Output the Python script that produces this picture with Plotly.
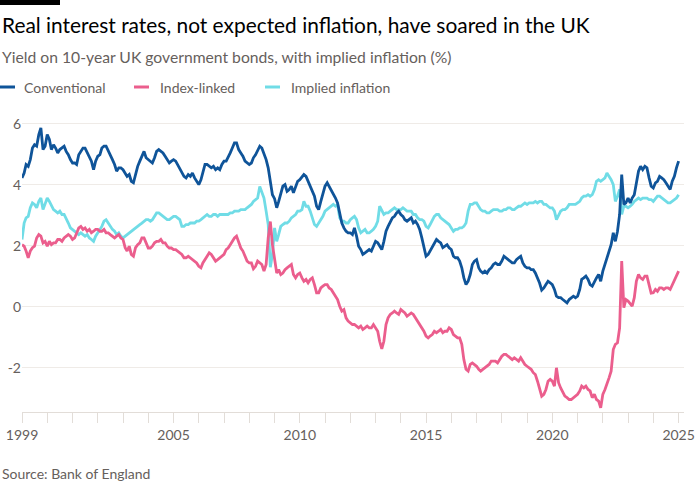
import plotly.graph_objects as go
import pandas as pd

# ---------------- data (monthly readings, Jan 1999 - Jan 2025) ----------------
months = pd.date_range("1999-01-01", "2025-01-01", freq="MS")

conventional = [
    4.23, 4.39, 4.67, 4.61, 4.83, 5.21, 5.32, 5.27, 5.65, 5.87, 5.16, 5.27,  # 1999
    5.65, 5.49, 5.16, 5.32, 5.21, 5.05, 5.16, 5.21, 5.27, 5.10, 4.99, 4.83,  # 2000
    4.72, 4.72, 4.67, 4.99, 5.10, 5.21, 5.21, 5.05, 4.89, 4.78, 4.50, 4.78,  # 2001
    4.94, 4.99, 5.21, 5.27, 5.27, 5.10, 4.94, 4.83, 4.67, 4.45, 4.56, 4.56,  # 2002
    4.50, 4.39, 4.28, 4.34, 4.12, 4.07, 4.39, 4.61, 4.78, 4.94, 5.10, 4.89,  # 2003
    4.83, 4.78, 4.72, 4.89, 5.10, 5.16, 5.10, 5.05, 4.94, 4.83, 4.72, 4.78,  # 2004
    4.83, 4.78, 4.67, 4.50, 4.39, 4.28, 4.23, 4.34, 4.28, 4.39, 4.23, 4.12,  # 2005
    4.01, 4.17, 4.39, 4.67, 4.67, 4.61, 4.56, 4.61, 4.50, 4.56, 4.50, 4.67,  # 2006
    4.78, 4.78, 4.89, 5.05, 5.21, 5.38, 5.38, 5.16, 5.05, 4.94, 4.78, 4.72,  # 2007
    4.67, 4.72, 4.89, 4.99, 5.16, 5.27, 5.21, 5.05, 4.83, 4.56, 4.12, 3.68,  # 2008
    3.55, 3.25, 3.45, 3.74, 3.96, 4.01, 3.79, 3.85, 3.96, 3.74, 3.96, 4.12,  # 2009
    4.17, 4.28, 4.34, 4.28, 4.12, 3.96, 3.79, 3.63, 3.30, 3.19, 3.46, 3.68,  # 2010
    3.96, 4.07, 3.96, 3.79, 3.68, 3.57, 3.41, 3.03, 2.75, 2.59, 2.48, 2.43,  # 2011
    2.43, 2.37, 2.59, 2.32, 1.99, 1.88, 1.72, 1.77, 1.83, 1.88, 1.83, 1.99,  # 2012
    2.15, 2.10, 1.99, 1.88, 2.15, 2.48, 2.64, 2.81, 2.92, 2.97, 3.08, 3.14,  # 2013
    3.03, 2.97, 2.86, 2.81, 2.86, 2.92, 2.75, 2.81, 2.70, 2.54, 2.26, 1.99,  # 2014
    1.66, 1.72, 1.83, 1.94, 2.10, 2.21, 2.15, 2.10, 1.94, 1.99, 2.04, 1.94,  # 2015
    1.88, 1.66, 1.61, 1.61, 1.50, 1.28, 0.95, 0.73, 0.84, 1.06, 1.39, 1.50,  # 2016
    1.55, 1.28, 1.17, 1.11, 1.17, 1.11, 1.22, 1.28, 1.39, 1.44, 1.39, 1.39,  # 2017
    1.50, 1.66, 1.61, 1.55, 1.50, 1.44, 1.44, 1.55, 1.61, 1.66, 1.44, 1.33,  # 2018
    1.28, 1.28, 1.22, 1.22, 1.11, 0.95, 0.78, 0.55, 0.62, 0.73, 0.84, 0.79,  # 2019
    0.73, 0.57, 0.35, 0.30, 0.30, 0.24, 0.19, 0.13, 0.24, 0.30, 0.35, 0.30,  # 2020
    0.35, 0.57, 0.90, 0.95, 1.01, 0.90, 0.73, 0.68, 0.84, 0.95, 1.06, 0.84,  # 2021
    1.17, 1.39, 1.61, 1.77, 2.04, 2.43, 2.15, 2.48, 3.03, 4.34, 3.36, 3.41,  # 2022
    3.57, 3.41, 3.57, 3.68, 4.12, 4.45, 4.61, 4.50, 4.61, 4.56, 4.23, 3.96,  # 2023
    3.90, 4.07, 4.12, 4.28, 4.23, 4.17, 4.07, 3.96, 3.85, 4.12, 4.28, 4.56,  # 2024
    4.78,                                                                    # 2025
]

index_linked = [
    2.04, 1.99, 1.83, 1.61, 1.83, 1.94, 1.99, 2.26, 2.37, 2.32, 2.10, 2.15,  # 1999
    1.99, 2.15, 2.04, 2.10, 2.10, 2.21, 2.21, 2.15, 2.26, 2.32, 2.37, 2.32,  # 2000
    2.21, 2.26, 2.43, 2.59, 2.64, 2.54, 2.59, 2.48, 2.54, 2.43, 2.48, 2.54,  # 2001
    2.54, 2.48, 2.48, 2.54, 2.43, 2.43, 2.37, 2.32, 2.26, 2.32, 2.37, 2.26,  # 2002
    2.21, 1.94, 1.83, 1.99, 1.72, 1.66, 1.94, 2.04, 2.10, 2.26, 2.26, 2.10,  # 2003
    1.93, 1.93, 1.99, 2.10, 2.15, 2.15, 2.21, 2.10, 2.10, 1.99, 1.93, 1.93,  # 2004
    1.88, 1.88, 1.83, 1.77, 1.72, 1.61, 1.61, 1.66, 1.61, 1.55, 1.50, 1.44,  # 2005
    1.33, 1.28, 1.44, 1.55, 1.66, 1.77, 1.72, 1.61, 1.50, 1.55, 1.61, 1.66,  # 2006
    1.72, 1.88, 1.93, 2.04, 2.15, 2.26, 2.32, 2.10, 1.93, 1.83, 1.66, 1.50,  # 2007
    1.44, 1.44, 1.25, 1.33, 1.50, 1.44, 1.39, 1.17, 1.39, 2.26, 2.80, 2.04,  # 2008
    1.50, 1.11, 1.22, 1.06, 1.11, 1.22, 1.28, 1.33, 1.39, 1.06, 0.95, 1.06,  # 2009
    1.11, 0.95, 0.84, 0.90, 0.79, 0.90, 0.95, 0.73, 0.46, 0.46, 0.62, 0.68,  # 2010
    0.73, 0.73, 0.62, 0.57, 0.46, 0.35, 0.24, 0.02, -0.14, -0.09, -0.36, -0.47,  # 2011
    -0.52, -0.58, -0.58, -0.63, -0.69, -0.63, -0.74, -0.69, -0.63, -0.69, -0.69, -0.58,  # 2012
    -0.69, -0.80, -1.13, -1.38, -1.13, -0.58, -0.36, -0.25, -0.20, -0.14, -0.20, -0.25,  # 2013
    -0.09, -0.14, -0.20, -0.31, -0.25, -0.20, -0.25, -0.36, -0.47, -0.58, -0.69, -0.80,  # 2014
    -0.96, -1.02, -0.96, -0.91, -0.80, -0.85, -0.80, -0.74, -0.85, -0.80, -0.80, -0.69,  # 2015
    -0.74, -0.91, -0.96, -1.02, -1.02, -1.23, -1.73, -2.05, -2.11, -1.89, -1.84, -1.89,  # 2016
    -1.95, -2.05, -2.11, -2.05, -2.00, -1.95, -1.89, -1.78, -1.78, -1.78, -1.84, -1.73,  # 2017
    -1.62, -1.56, -1.56, -1.62, -1.67, -1.73, -1.67, -1.73, -1.78, -1.67, -1.78, -1.89,  # 2018
    -1.95, -2.00, -2.05, -2.16, -2.22, -2.44, -2.66, -2.93, -2.87, -2.71, -2.44, -2.38,  # 2019
    -2.44, -2.60, -2.00, -2.49, -2.66, -2.82, -2.93, -2.98, -3.04, -3.04, -2.98, -2.93,  # 2020
    -2.87, -2.76, -2.60, -2.66, -2.60, -2.71, -2.76, -2.98, -2.87, -3.04, -3.09, -3.31,  # 2021
    -2.87, -2.71, -2.49, -2.33, -2.11, -1.40, -1.23, -1.18, -0.69, 1.50, -0.03, 0.24,  # 2022
    0.19, 0.08, 0.02, 0.30, 0.84, 1.06, 0.95, 0.90, 1.01, 1.01, 0.73, 0.45,  # 2023
    0.46, 0.57, 0.51, 0.62, 0.62, 0.57, 0.62, 0.62, 0.57, 0.73, 0.90, 1.06,  # 2024
    1.17,                                                                    # 2025
]

implied_inflation = [
    2.21, 2.75, 2.92, 2.97, 3.25, 3.41, 3.36, 3.25, 3.46, 3.57, 3.19, 3.36,  # 1999
    3.57, 3.46, 3.30, 3.19, 3.14, 3.08, 3.14, 3.03, 3.03, 2.86, 2.75, 2.59,  # 2000
    2.54, 2.48, 2.43, 2.37, 2.43, 2.37, 2.32, 2.37, 2.26, 2.21, 2.15, 2.32,  # 2001
    2.43, 2.54, 2.64, 2.81, 2.86, 2.75, 2.64, 2.54, 2.48, 2.37, 2.43, 2.32,  # 2002
    2.26, 2.32, 2.37, 2.43, 2.48, 2.54, 2.59, 2.64, 2.70, 2.75, 2.81, 2.86,  # 2003
    2.86, 2.81, 2.86, 2.97, 3.08, 3.08, 3.03, 2.97, 2.92, 2.86, 2.86, 2.92,  # 2004
    2.97, 2.97, 2.92, 2.86, 2.64, 2.64, 2.70, 2.70, 2.75, 2.75, 2.75, 2.81,  # 2005
    2.81, 2.86, 2.92, 2.97, 3.03, 2.97, 2.97, 3.03, 3.03, 2.97, 3.03, 3.03,  # 2006
    3.03, 3.03, 3.03, 3.08, 3.08, 3.14, 3.14, 3.14, 3.19, 3.19, 3.19, 3.25,  # 2007
    3.30, 3.36, 3.46, 3.52, 3.57, 3.95, 3.74, 3.57, 3.14, 2.70, 1.30, 1.72,  # 2008
    2.59, 2.15, 2.37, 2.64, 2.70, 2.75, 2.75, 2.81, 2.92, 2.97, 3.03, 3.14,  # 2009
    3.14, 3.19, 3.46, 3.30, 3.30, 3.14, 2.92, 2.70, 2.64, 2.75, 2.86, 2.97,  # 2010
    3.14, 3.19, 3.25, 3.30, 3.36, 3.30, 3.36, 2.92, 2.81, 2.81, 2.75, 2.75,  # 2011
    2.86, 2.92, 2.97, 2.86, 2.59, 2.43, 2.48, 2.54, 2.43, 2.43, 2.48, 2.54,  # 2012
    2.64, 2.81, 3.30, 3.14, 3.03, 3.08, 3.08, 3.14, 3.19, 3.25, 3.19, 3.19,  # 2013
    3.19, 3.25, 3.19, 3.14, 3.14, 3.14, 3.03, 3.03, 2.92, 2.86, 2.86, 2.81,  # 2014
    2.64, 2.59, 2.70, 2.86, 2.97, 3.03, 3.03, 2.92, 2.86, 2.81, 2.75, 2.70,  # 2015
    2.59, 2.48, 2.54, 2.54, 2.59, 2.59, 2.64, 2.75, 3.14, 3.36, 3.36, 3.41,  # 2016
    3.41, 3.30, 3.19, 3.14, 3.14, 3.08, 3.08, 3.14, 3.19, 3.19, 3.19, 3.14,  # 2017
    3.14, 3.19, 3.19, 3.25, 3.25, 3.19, 3.19, 3.25, 3.30, 3.30, 3.36, 3.41,  # 2018
    3.36, 3.41, 3.41, 3.41, 3.46, 3.41, 3.46, 3.46, 3.36, 3.36, 3.30, 3.25,  # 2019
    3.25, 3.14, 2.86, 3.03, 3.14, 3.19, 3.19, 3.25, 3.36, 3.36, 3.36, 3.36,  # 2020
    3.41, 3.46, 3.57, 3.63, 3.63, 3.68, 3.63, 3.68, 3.85, 4.12, 4.17, 4.12,  # 2021
    4.17, 4.23, 4.39, 4.28, 4.17, 4.01, 3.46, 3.63, 3.85, 3.03, 3.30, 3.30,  # 2022
    3.25, 3.30, 3.36, 3.46, 3.52, 3.57, 3.52, 3.57, 3.57, 3.57, 3.52, 3.52,  # 2023
    3.46, 3.57, 3.63, 3.63, 3.57, 3.52, 3.46, 3.41, 3.41, 3.46, 3.52, 3.57,  # 2024
    3.68,                                                                    # 2025
]

series_names = ["Conventional", "Index-linked", "Implied inflation"]
y_ticks = [-2, 0, 2, 4, 6]
y_tick_labels = ["-2", "0", "2", "4", "6"]
x_tick_years = list(range(1999, 2026))
x_label_years = [1999, 2005, 2010, 2015, 2020, 2025]

# ---------------- styling ----------------
W, H = 700, 500
L, R, T, B = 22, 16, 120, 88
PW, PH = W - L - R, H - T - B
FONT = "Lato"
BLUE, PINK, CYAN = "#0f5499", "#eb5e8d", "#70dce6"
GREY = "#66605c"
GRID = "#efebe7"
AXIS = "#e2ddd8"


def px_x(p):
    return (p - L) / PW


def px_y(p):
    return (H - B - p) / PH


fig = go.Figure()
colors = {"Conventional": BLUE, "Index-linked": PINK, "Implied inflation": CYAN}
data = {"Conventional": conventional, "Index-linked": index_linked,
        "Implied inflation": implied_inflation}
for name in ["Implied inflation", "Index-linked", "Conventional"]:
    fig.add_trace(go.Scatter(x=months, y=data[name], mode="lines", name=name,
                             line=dict(color=colors[name], width=2.8),
                             showlegend=False))

annotations = [
    dict(text="Real interest rates, not expected inflation, have soared in the UK",
         x=px_x(0), y=px_y(24), xanchor="left", yanchor="middle",
         font=dict(family=FONT, size=20.9, color="#000000")),
    dict(text="Yield on 10-year UK government bonds, with implied inflation (%)",
         x=px_x(0), y=px_y(57), xanchor="left", yanchor="middle",
         font=dict(family=FONT, size=15.7, color=GREY)),
    dict(text="Source: Bank of England",
         x=px_x(0), y=px_y(473), xanchor="left", yanchor="middle",
         font=dict(family=FONT, size=14, color=GREY)),
]
shapes = [
    dict(type="rect", xref="paper", yref="paper", x0=px_x(0), x1=px_x(60),
         y0=px_y(0), y1=px_y(5), fillcolor="#000000", line=dict(width=0)),
]
legend_pos = [(0, 22), (134, 158), (265, 289)]
for name, (sx, tx) in zip(series_names, legend_pos):
    shapes.append(dict(type="line", xref="paper", yref="paper",
                       x0=px_x(sx), x1=px_x(sx + 15), y0=px_y(87), y1=px_y(87),
                       line=dict(color=colors[name], width=3)))
    annotations.append(dict(text=name, x=px_x(tx), y=px_y(87), xanchor="left",
                            yanchor="middle",
                            font=dict(family=FONT, size=14, color=GREY)))
for a in annotations:
    a.update(xref="paper", yref="paper", showarrow=False)

tickvals = [pd.Timestamp(f"{y}-01-01") for y in x_tick_years]
ticktext = [str(y) if y in x_label_years else "" for y in x_tick_years]

fig.update_layout(
    width=W, height=H, autosize=False,
    margin=dict(l=L, r=R, t=T, b=B),
    paper_bgcolor="#ffffff", plot_bgcolor="#ffffff",
    font=dict(family=FONT, color=GREY, size=14),
    annotations=annotations, shapes=shapes,
    xaxis=dict(type="date", range=["1999-01-01", "2025-03-20"],
               tickvals=tickvals, ticktext=ticktext, automargin=False,
               ticks="outside", ticklen=10, tickcolor=AXIS, tickwidth=1,
               showline=True, linecolor=AXIS, linewidth=1,
               showgrid=False, zeroline=False,
               tickfont=dict(family=FONT, size=14, color=GREY)),
    yaxis=dict(range=[-3.45, 6.13], tickvals=y_ticks, ticktext=y_tick_labels,
               automargin=False,
               showgrid=True, gridcolor=GRID, gridwidth=1,
               zeroline=False, showline=False, ticks="",
               tickfont=dict(family=FONT, size=14, color=GREY)),
)

fig.write_html("out.html",
               config={"displayModeBar": False, "responsive": False},
               post_script="document.documentElement.style.overflow='hidden';"
                           "document.body.style.overflow='hidden';"
                           "document.body.style.margin='0';"
                           "document.body.style.padding='0';")
